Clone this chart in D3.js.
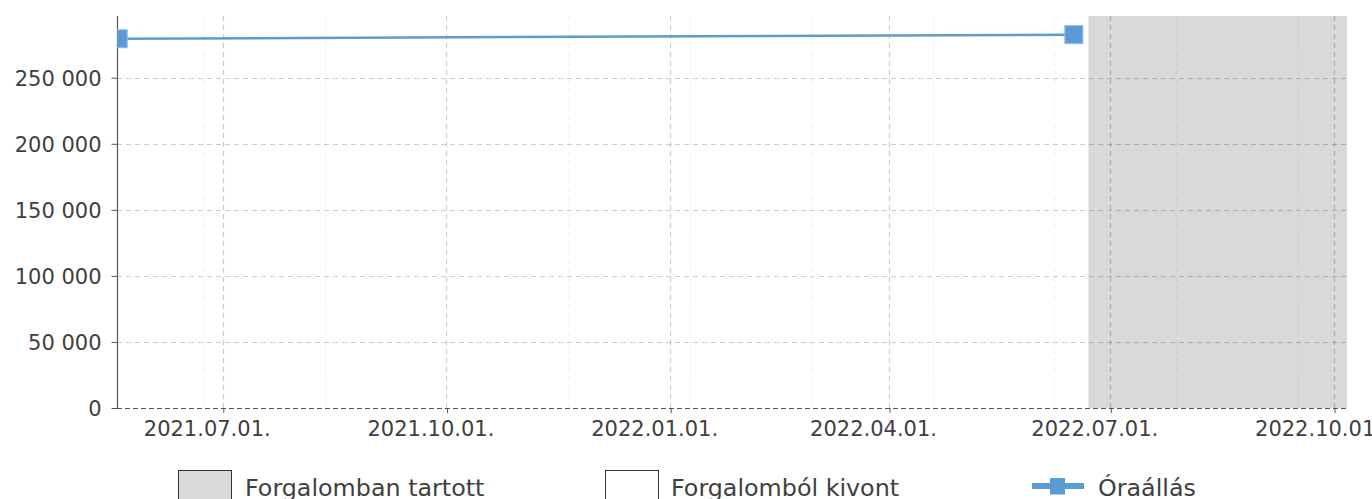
<!DOCTYPE html>
<html><head><meta charset="utf-8">
<script src="https://cdn.jsdelivr.net/npm/d3@7"></script>
<style>
html,body{margin:0;padding:0;background:#fff;}
svg{display:block;font-family:"DejaVu Sans",sans-serif;}
</style></head>
<body>
<svg id="chart" width="1372" height="499"></svg>
<script>
// Data
const pointDates = ["2021-05-19", "2022-06-16"];
const pointValues = [279500, 282600];
const shadedStart = ["2022-06-22"];
const shadedEnd = ["2022-10-06T08:00"];
const domainDates = ["2021-05-18T12:00", "2022-10-06T08:00"];
const majorTickDates = ["2021-07-01", "2021-10-01", "2022-01-01", "2022-04-01", "2022-07-01", "2022-10-01"];
const majorTickLabels = ["2021.07.01.", "2021.10.01.", "2022.01.01.", "2022.04.01.", "2022.07.01.", "2022.10.01."];
const minorTickDates = ["2021-06-23", "2021-08-12", "2021-11-20", "2022-01-09", "2022-02-28", "2022-04-19", "2022-06-08", "2022-07-28", "2022-09-16"];
const yTicks = [0, 50000, 100000, 150000, 200000, 250000];
const yTickLabels = ["0", "50 000", "100 000", "150 000", "200 000", "250 000"];
const legendLabels = ["Forgalomban tartott", "Forgalomból kivont", "Óraállás"];

const parse = s => new Date(s);
const svg = d3.select("#chart");
const m = {l: 117, r: 1347, t: 16, b: 408};
const x = d3.scaleTime().domain(domainDates.map(parse)).range([m.l, m.r]);
const y = d3.scaleLinear().domain([0, d3.max(pointValues) * 1.05]).range([m.b, m.t]);
const txt = "#404040";
const blue = "#5b9bd5";

svg.append("defs").append("clipPath").attr("id", "clip")
  .append("rect").attr("x", m.l).attr("y", m.t - 12).attr("width", m.r - m.l).attr("height", m.b - m.t + 12);

// shaded region
svg.selectAll("rect.shade").data(shadedStart).enter().append("rect")
  .attr("class", "shade")
  .attr("x", (d, i) => x(parse(d)))
  .attr("y", m.t)
  .attr("width", (d, i) => x(parse(shadedEnd[i])) - x(parse(d)))
  .attr("height", m.b - m.t)
  .attr("fill", "#d9d9d9");

// minor vertical grid
svg.append("g").selectAll("line").data(minorTickDates).enter().append("line")
  .attr("x1", d => Math.round(x(parse(d))) + 0.5).attr("x2", d => Math.round(x(parse(d))) + 0.5)
  .attr("y1", m.t).attr("y2", m.b)
  .attr("stroke", "#000").attr("stroke-opacity", 0.05).attr("stroke-width", 1.2)
  .attr("stroke-dasharray", "5,4");

// major vertical grid
svg.append("g").selectAll("line").data(majorTickDates).enter().append("line")
  .attr("x1", d => Math.round(x(parse(d))) + 0.5).attr("x2", d => Math.round(x(parse(d))) + 0.5)
  .attr("y1", m.t).attr("y2", m.b)
  .attr("stroke", "#000").attr("stroke-opacity", 0.2).attr("stroke-width", 1.2)
  .attr("stroke-dasharray", "5,4");

// horizontal grid
svg.append("g").selectAll("line").data(yTicks.slice(1)).enter().append("line")
  .attr("x1", m.l).attr("x2", m.r)
  .attr("y1", d => Math.round(y(d)) + 0.5).attr("y2", d => Math.round(y(d)) + 0.5)
  .attr("stroke", "#000").attr("stroke-opacity", 0.2).attr("stroke-width", 1.2)
  .attr("stroke-dasharray", "5,4");

// bottom axis (dashed)
svg.append("line").attr("x1", m.l).attr("x2", m.r)
  .attr("y1", m.b + 0.5).attr("y2", m.b + 0.5)
  .attr("stroke", "#555").attr("stroke-width", 1.2).attr("stroke-dasharray", "5,3");

// x axis ticks
const xAxis = d3.axisBottom(x)
  .tickValues(majorTickDates.map(parse))
  .tickFormat((d, i) => majorTickLabels[i])
  .tickSize(5).tickPadding(8);
const gx = svg.append("g").attr("transform", `translate(0.5,${m.b})`).call(xAxis);
gx.select(".domain").remove();
gx.selectAll(".tick line").attr("stroke", "#555");
gx.selectAll(".tick text").attr("fill", txt).style("font-size", "21px").style("font-family", "DejaVu Sans")
  .attr("text-anchor", "start").attr("x", -80);

// y axis
const yAxis = d3.axisLeft(y).tickValues(yTicks).tickFormat((d, i) => yTickLabels[i]).tickSize(6).tickPadding(10);
const gy = svg.append("g").attr("transform", `translate(${m.l + 0.5},0)`).call(yAxis);
gy.select(".domain").attr("d", `M0,${m.t}V${m.b}`).attr("stroke", "#555").attr("stroke-width", 1.2);
gy.selectAll(".tick line").attr("stroke", "#555");
gy.selectAll(".tick text").attr("fill", txt).style("font-size", "21px").style("font-family", "DejaVu Sans").attr("dy", "0.35em");

// line
const pts = pointDates.map((d, i) => ({d: parse(d), v: pointValues[i]}));
const g = svg.append("g").attr("clip-path", "url(#clip)");
g.append("path").datum(pts)
  .attr("d", d3.line().x(p => x(p.d)).y(p => y(p.v)))
  .attr("fill", "none").attr("stroke", blue).attr("stroke-width", 2.5);
g.selectAll("rect.mk").data(pts).enter().append("rect")
  .attr("x", p => x(p.d) - 9).attr("y", p => y(p.v) - 9)
  .attr("width", 18).attr("height", 18)
  .attr("fill", blue).attr("stroke", "#8fbbe6").attr("stroke-width", 1);

// legend
const fs = "23.8px";
const lg = svg.append("g");
lg.append("rect").attr("x", 178.5).attr("y", 470.5).attr("width", 53).attr("height", 40)
  .attr("fill", "#d9d9d9").attr("stroke", "#333").attr("stroke-width", 1);
lg.append("text").attr("x", 245).attr("y", 496).text(legendLabels[0])
  .attr("fill", txt).style("font-size", fs);
lg.append("rect").attr("x", 605.5).attr("y", 470.5).attr("width", 53).attr("height", 40)
  .attr("fill", "#fff").attr("stroke", "#333").attr("stroke-width", 1);
lg.append("text").attr("x", 671).attr("y", 496).text(legendLabels[1])
  .attr("fill", txt).style("font-size", fs);
lg.append("line").attr("x1", 1032).attr("x2", 1084).attr("y1", 486).attr("y2", 486)
  .attr("stroke", blue).attr("stroke-width", 6);
lg.append("rect").attr("x", 1050).attr("y", 478).attr("width", 15).attr("height", 16.5)
  .attr("fill", blue);
lg.append("text").attr("x", 1098).attr("y", 496).text(legendLabels[2])
  .attr("fill", txt).style("font-size", fs);
</script>
</body></html>
